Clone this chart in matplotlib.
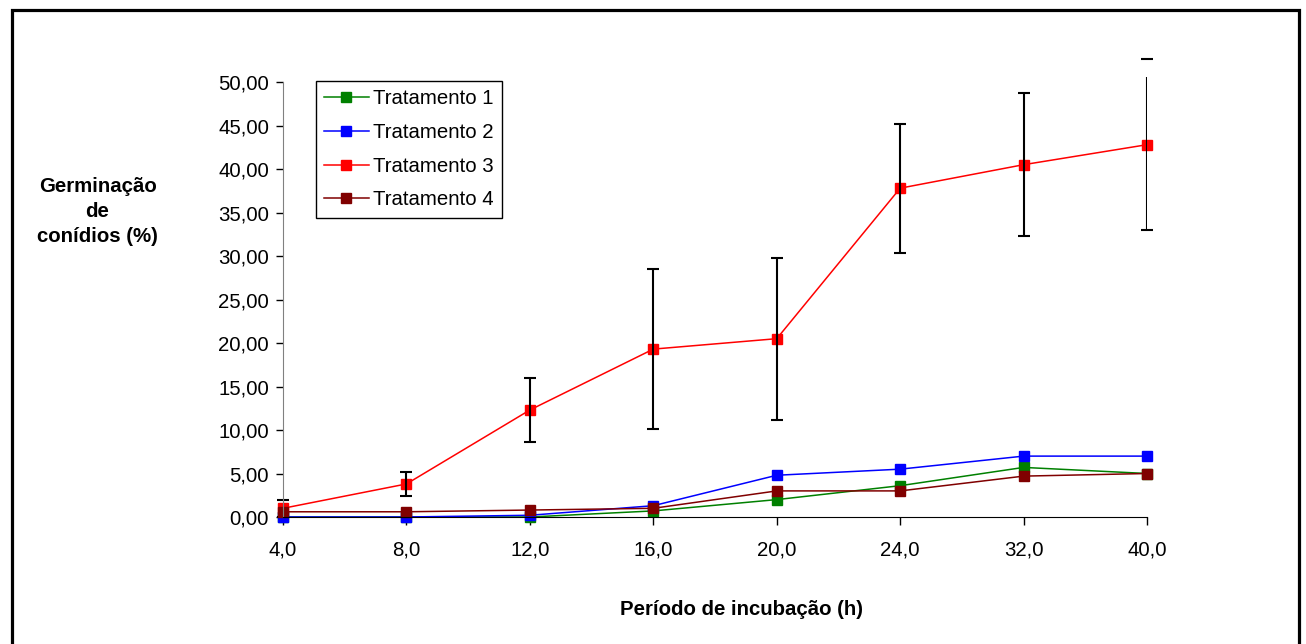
import numpy as np
import matplotlib.pyplot as plt
from matplotlib.lines import Line2D

plt.rcParams['font.family'] = ['Liberation Sans', 'DejaVu Sans']

periodos = ["4,0", "8,0", "12,0", "16,0", "20,0", "24,0", "32,0", "40,0"]

trat1 = [0.0, 0.0, 0.0, 0.7, 2.0, 3.6, 5.7, 5.0]
trat2 = [0.0, 0.0, 0.2, 1.3, 4.8, 5.5, 7.0, 7.0]
trat3 = [1.0, 3.8, 12.3, 19.3, 20.5, 37.8, 40.5, 42.8]
trat3_err = [1.0, 1.4, 3.7, 9.2, 9.3, 7.4, 8.2, 9.8]
trat4 = [0.6, 0.6, 0.8, 1.0, 3.0, 3.0, 4.7, 5.0]

x = np.arange(len(periodos))

fig = plt.figure(figsize=(13.06, 6.44), dpi=100)
ax = fig.add_axes([0.2167, 0.1972, 0.6616, 0.6835])

ms = 6.5
lw = 1.1
ax.plot(x, trat1, color="#008000", marker="s", ms=ms, lw=lw, label="Tratamento 1", clip_on=False)
ax.plot(x, trat2, color="#0000ff", marker="s", ms=ms, lw=lw, label="Tratamento 2", clip_on=False)
ax.plot(x, trat3, color="#ff0000", marker="s", ms=ms, lw=lw, label="Tratamento 3", clip_on=False)
eb = ax.errorbar(x, trat3, yerr=trat3_err, fmt="none", ecolor="black",
                 elinewidth=1.5, capsize=4.5, capthick=1.5)
for cap in eb[1]:
    cap.set_clip_on(False)
ax.plot(x, trat4, color="#800000", marker="s", ms=ms, lw=lw, label="Tratamento 4", clip_on=False)

ax.set_xlim(0, 7)
ax.set_ylim(0, 50.6)
ax.set_xticks(x)
ax.set_xticklabels(periodos)
yt = np.arange(0, 51, 5)
ax.set_yticks(yt)
ax.set_yticklabels([f"{v:.2f}".replace(".", ",") for v in yt])

for s in ["top", "right"]:
    ax.spines[s].set_visible(False)
ax.spines["left"].set_bounds(0, 50)
ax.spines["left"].set_color("#808080")
ax.spines["bottom"].set_color("black")
ax.tick_params(axis="y", direction="out", length=5, width=1, pad=5, labelsize=14.7)
ax.tick_params(axis="x", direction="out", length=6, width=1, pad=11, labelsize=14.7)

fig.text(0.0747, 0.671, "Germinação\nde\nconídios (%)", ha="center", va="center",
         fontsize=14.7, fontweight="bold", linespacing=1.4)
fig.text(0.568, 0.053, "Período de incubação (h)", ha="center", va="center",
         fontsize=14.7, fontweight="bold")

leg = ax.legend(loc="upper left", bbox_to_anchor=(0.038, 0.99), fontsize=14.7,
                frameon=True, fancybox=False, edgecolor="black", framealpha=1,
                handlelength=2.2, handletextpad=0.2, labelspacing=0.72,
                borderpad=0.4, borderaxespad=0)
leg.get_frame().set_linewidth(1.0)

# moldura externa
W, H = 1306, 644
fx = lambda p: p / W
fy = lambda p: 1 - p / H
border = Line2D([fx(11.5), fx(11.5), fx(1298.5), fx(1298.5)],
                [fy(660), fy(9.5), fy(9.5), fy(660)],
                transform=fig.transFigure, color="black", lw=2.3,
                solid_joinstyle="miter")
fig.add_artist(border)

fig.savefig("out.png", dpi=100)
